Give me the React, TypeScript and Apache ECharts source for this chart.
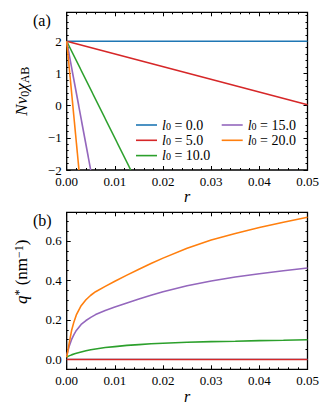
import React, { useEffect, useRef } from "react";
import * as echarts from "echarts";

const FONT = "Liberation Serif";
const L0_LABELS = ["0.0", "5.0", "10.0", "15.0", "20.0"];
const COLORS = ["#1f77b4", "#d62728", "#2ca02c", "#9467bd", "#ff7f0e"];
const WIDTHS_B = [1.2, 1.6, 1.6, 1.6, 1.6];

// Panel (a): N v0 chi_AB vs r (straight lines, start and end points)
const A_R_L0_0 = [0, 0.05];
const A_Y_L0_0 = [2, 2];
const A_R_L0_5 = [0, 0.05];
const A_Y_L0_5 = [2, 0.03];
const A_R_L0_10 = [0, 0.0133];
const A_Y_L0_10 = [2, -2];
const A_R_L0_15 = [0, 0.00498];
const A_Y_L0_15 = [2, -2];
const A_R_L0_20 = [0, 0.00255];
const A_Y_L0_20 = [2, -2];

// Panel (b): q* vs r
const B_R = [0, 0.0005, 0.001, 0.0015, 0.002, 0.003, 0.004, 0.005, 0.006, 0.008, 0.01, 0.0125, 0.015, 0.0175, 0.02, 0.025, 0.03, 0.035, 0.04, 0.045, 0.05];
const B_Q_L0_0 = [0, 0, 0, 0, 0, 0, 0, 0, 0, 0, 0, 0, 0, 0, 0, 0, 0, 0, 0, 0, 0];
const B_Q_L0_5 = [0, 0, 0, 0, 0, 0, 0, 0, 0, 0, 0, 0, 0, 0, 0, 0, 0, 0, 0, 0, 0];
const B_Q_L0_10 = [0.012, 0.018, 0.023, 0.027, 0.031, 0.038, 0.044, 0.049, 0.053, 0.06, 0.065, 0.071, 0.075, 0.079, 0.082, 0.087, 0.09, 0.092, 0.095, 0.097, 0.1];
const B_Q_L0_15 = [0.02, 0.065, 0.1, 0.126, 0.147, 0.177, 0.197, 0.213, 0.227, 0.248, 0.265, 0.286, 0.306, 0.325, 0.343, 0.373, 0.397, 0.417, 0.434, 0.449, 0.463];
const B_Q_L0_20 = [0.01, 0.08, 0.145, 0.19, 0.225, 0.272, 0.302, 0.325, 0.343, 0.37, 0.396, 0.427, 0.457, 0.486, 0.513, 0.563, 0.605, 0.638, 0.668, 0.695, 0.72];

const A_X_RANGE = [0, 0.05];
const A_Y_RANGE = [-2, 2.9];
const B_Y_RANGE = [-0.05, 0.745];

const zip = (xs: number[], ys: number[]) => xs.map((x, i) => [x, ys[i]]);

const tickStyle = { color: "#000", width: 1 };

function xAxes(gridIndex: number) {
  const base = {
    gridIndex,
    type: "value",
    min: A_X_RANGE[0],
    max: A_X_RANGE[1],
    interval: 0.01,
    axisLine: { show: false, onZero: false },
    splitLine: { show: false },
    axisTick: { show: true, inside: true, length: 4, lineStyle: tickStyle },
    minorTick: { show: true, splitNumber: 5, length: 2, lineStyle: tickStyle },
  };
  return [
    {
      ...base,
      position: "bottom",
      axisLabel: {
        show: true,
        margin: 6,
        color: "#000",
        fontFamily: FONT,
        fontSize: 13,
        lineHeight: 11,
        formatter: (v: number) => v.toFixed(2),
      },
      name: "r",
      nameLocation: "middle",
      nameGap: 12,
      nameTextStyle: { fontFamily: FONT, fontSize: 16, fontStyle: "italic", color: "#000", lineHeight: 14 },
    },
    { ...base, position: "top", axisLabel: { show: false } },
  ];
}

function yAxes(gridIndex: number, range: number[], majorSplit: number, minorInterval: number, labelFn: (v: number) => string, name: any) {
  const base = {
    gridIndex,
    type: "value",
    min: range[0],
    max: range[1],
    axisLine: { show: false, onZero: false },
    splitLine: { show: false },
  };
  const major = {
    ...base,
    splitNumber: majorSplit,
    axisTick: { show: true, inside: true, length: 4, lineStyle: tickStyle },
  };
  const minor = {
    ...base,
    interval: minorInterval,
    axisTick: { show: true, inside: true, length: 2, lineStyle: tickStyle },
    axisLabel: { show: false },
  };
  return [
    {
      ...major,
      position: "left",
      axisLabel: { show: true, margin: 5, color: "#000", fontFamily: FONT, fontSize: 13, lineHeight: 9, formatter: labelFn },
      ...name,
    },
    { ...major, position: "right", axisLabel: { show: false } },
    { ...minor, position: "left" },
    { ...minor, position: "right" },
  ];
}

const richBase = {
  i: { fontFamily: FONT, fontStyle: "italic", fontSize: 17, lineHeight: 18, color: "#000" },
  u: { fontFamily: FONT, fontSize: 17, lineHeight: 18, color: "#000" },
  s: { fontFamily: FONT, fontSize: 12, lineHeight: 11, verticalAlign: "bottom", color: "#000" },
  p: { fontFamily: FONT, fontSize: 12, lineHeight: 11, verticalAlign: "top", color: "#000" },
};

export default function App() {
  const ref = useRef<HTMLDivElement>(null);
  useEffect(() => {
    if (!ref.current) return;
    const chart = echarts.init(ref.current, null, { renderer: "svg" });

    const aLabel = (v: number) => {
      if (Math.abs(v - Math.round(v)) > 1e-9) return "";
      const n = Math.round(v);
      return n < 0 ? "\u2212" + Math.abs(n) : String(n);
    };
    const bLabel = (v: number) => {
      const k = v / 0.2;
      if (Math.abs(k - Math.round(k)) > 1e-6) return "";
      return Math.abs(v) < 1e-9 ? "0.0" : v.toFixed(1);
    };

    const aName = {
      name: "{i|Nv}{s|0}{i|\u03c7}{s|AB}",
      nameLocation: "middle",
      nameGap: 36,
      nameRotate: 90,
      nameTextStyle: { rich: richBase, color: "#000" },
    };
    const bName = {
      name: "{i|q}{p|*}{u| (nm}{p|\u22121}{u|)}",
      nameLocation: "middle",
      nameGap: 36,
      nameRotate: 90,
      nameTextStyle: { rich: richBase, color: "#000", padding: [0, 0, 0, 38] },
    };

    const aData = [
      zip(A_R_L0_0, A_Y_L0_0),
      zip(A_R_L0_5, A_Y_L0_5),
      zip(A_R_L0_10, A_Y_L0_10),
      zip(A_R_L0_15, A_Y_L0_15),
      zip(A_R_L0_20, A_Y_L0_20),
    ];
    const bData = [
      zip(B_R, B_Q_L0_0),
      zip(B_R, B_Q_L0_5),
      zip(B_R, B_Q_L0_10),
      zip(B_R, B_Q_L0_15),
      zip(B_R, B_Q_L0_20),
    ];

    const series: any[] = [];
    L0_LABELS.forEach((lab, i) => {
      series.push({
        type: "line",
        name: lab,
        xAxisIndex: 0,
        yAxisIndex: 0,
        data: aData[i],
        symbol: "none",
        lineStyle: { color: COLORS[i], width: 1.6 },
        itemStyle: { color: COLORS[i] },
        clip: true,
      });
    });
    L0_LABELS.forEach((lab, i) => {
      series.push({
        type: "line",
        name: lab,
        xAxisIndex: 2,
        yAxisIndex: 4,
        data: bData[i],
        symbol: "none",
        smooth: false,
        lineStyle: { color: COLORS[i], width: WIDTHS_B[i] },
        itemStyle: { color: COLORS[i] },
        clip: true,
      });
    });

    const legendText = {
      color: "#000",
      rich: {
        i: { fontFamily: FONT, fontStyle: "italic", fontSize: 14, lineHeight: 12 },
        s: { fontFamily: FONT, fontSize: 10, lineHeight: 8, verticalAlign: "bottom" },
        n: { fontFamily: FONT, fontSize: 14, lineHeight: 12 },
      },
    };
    const legendFmt = (name: string) => `{i|l}{s|0}{n| = ${name}}`;
    const legendBase = {
      orient: "vertical",
      icon: "rect",
      itemWidth: 21,
      itemHeight: 1.6,
      itemGap: 1.3,
      selectedMode: false,
      formatter: legendFmt,
      textStyle: legendText,
      padding: 0,
    };

    chart.setOption({
      animation: false,
      backgroundColor: "#fff",
      grid: [
        { left: 66.7, top: 12.3, width: 240.8, height: 157.7, show: true, borderColor: "#000", borderWidth: 1.3, backgroundColor: "transparent", containLabel: false, outerBoundsMode: "none" },
        { left: 66.7, top: 212.3, width: 240.8, height: 157, show: true, borderColor: "#000", borderWidth: 1.3, backgroundColor: "transparent", containLabel: false, outerBoundsMode: "none" },
      ],
      xAxis: [...xAxes(0), ...xAxes(1)],
      yAxis: [
        ...yAxes(0, A_Y_RANGE, 5, 0.2, aLabel, aName),
        ...yAxes(1, B_Y_RANGE, 4, 0.05, bLabel, bName),
      ],
      legend: [
        { ...legendBase, data: L0_LABELS.slice(0, 3), left: 136, top: 118 },
        { ...legendBase, data: L0_LABELS.slice(3), left: 221.7, top: 118 },
      ],
      graphic: [
        { type: "text", left: 33, top: 12, style: { text: "(a)", font: `16px ${FONT}`, fill: "#000" } },
        { type: "text", left: 33, top: 212, style: { text: "(b)", font: `16px ${FONT}`, fill: "#000" } },
      ],
      series,
    });
    return () => chart.dispose();
  }, []);
  return <div ref={ref} style={{ position: "fixed", left: 0, top: 0, width: 332, height: 411 }} />;
}
